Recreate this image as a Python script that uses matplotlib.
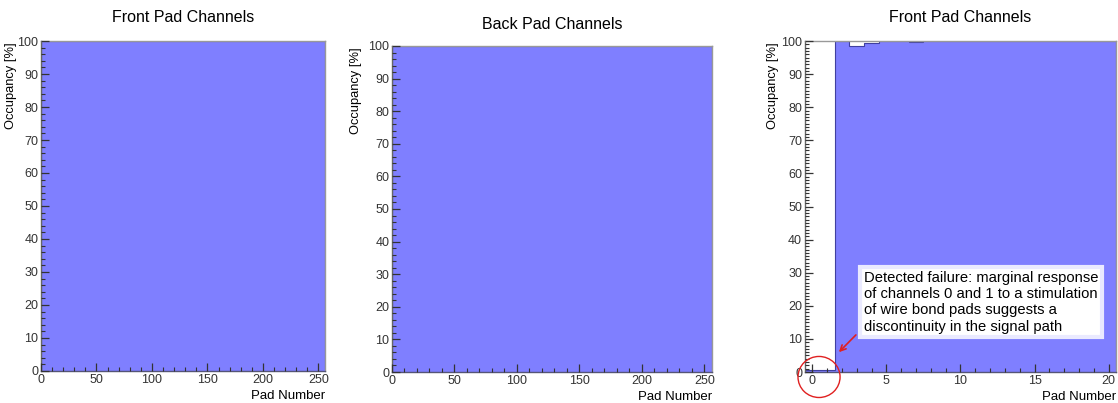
import matplotlib
matplotlib.use("Agg")
import matplotlib.pyplot as plt
import numpy as np
from matplotlib.patches import Ellipse
from matplotlib.ticker import MultipleLocator

plt.rcParams['font.family'] = ['Liberation Sans Narrow', 'Liberation Sans', 'DejaVu Sans']

# data: occupancy per pad channel [%]
front_occ = [100.0] * 256
back_occ = [100.0] * 256
zoom_occ = [0.5, 0.5, 100, 98.5, 99.5, 100, 100, 99.6, 100, 100,
            100, 100, 100, 100, 100, 100, 100, 100, 100, 100, 100]
titles = ["Front Pad Channels", "Back Pad Channels", "Front Pad Channels"]
note = ("Detected failure: marginal response\n"
        "of channels 0 and 1 to a stimulation\n"
        "of wire bond pads suggests a\n"
        "discontinuity in the signal path")

fill = '#7f7fff'
line = '#4040a0'

fig = plt.figure(figsize=(11.18, 4.03), dpi=100)
rects = [
    [0.0367, 0.0795, 0.2540, 0.8187],
    [0.3506, 0.0769, 0.2862, 0.8090],
    [0.7200, 0.0769, 0.2782, 0.8213],
]
ylab_off = [-0.105, -0.112, -0.103]


def style_axes(ax, xmaj, xmin, ymin):
    for s in ax.spines.values():
        s.set_color('#999999')
        s.set_linewidth(1.0)
    ax.spines['left'].set_color('#666666')
    ax.spines['bottom'].set_color('#555577')
    ax.xaxis.set_major_locator(MultipleLocator(xmaj))
    ax.xaxis.set_minor_locator(MultipleLocator(xmin))
    ax.yaxis.set_major_locator(MultipleLocator(10))
    ax.yaxis.set_minor_locator(MultipleLocator(ymin))
    ax.tick_params(which='both', direction='in', top=False, right=False,
                   colors='#333333', labelsize=9, pad=2)
    ax.tick_params(which='major', length=6, width=0.9)
    ax.tick_params(which='minor', length=3, width=0.8)
    ax.set_ylim(0, 100)
    ax.set_axisbelow(False)


for i, (vals, rect) in enumerate(zip([front_occ, back_occ, zoom_occ], rects)):
    ax = fig.add_axes(rect)
    n = len(vals)
    if i < 2:
        edges = np.arange(n + 1)
        ax.set_xlim(0, n)
        style_axes(ax, 50, 10, 2)
    else:
        edges = np.arange(n + 1) - 0.5
        ax.set_xlim(-0.5, n - 0.5)
        style_axes(ax, 5, 1, 1)
    ax.stairs(vals, edges, fill=True, color=fill, zorder=1)
    ax.stairs(vals, edges, color=line, linewidth=0.8, zorder=2)
    ax.set_title(titles[i], fontsize=11.5, pad=14 if i != 1 else 12)
    ax.text(ylab_off[i], 0.995, "Occupancy [%]", rotation=90, ha='center',
            va='top', fontsize=9.3, transform=ax.transAxes,
            family=['Liberation Sans', 'DejaVu Sans'])
    ax.text(1.0, -0.058, "Pad Number", ha='right', va='top', fontsize=9.5,
            transform=ax.transAxes)
    if i == 2:
        ax.text(0.19, 0.305, note, transform=ax.transAxes, ha='left',
                va='top', fontsize=10.6, linespacing=1.2,
                family=['Liberation Sans', 'DejaVu Sans'],
                bbox=dict(boxstyle='square,pad=0.25', facecolor='white',
                          edgecolor='#eaeaff', linewidth=3))
        ax.annotate("", xy=(1.66, 5.4), xytext=(3.07, 11.8),
                    arrowprops=dict(arrowstyle='->', color='#e02020', lw=1.2),
                    annotation_clip=False)
        ax.add_patch(Ellipse((0.45, -1.5), 2.84, 12.4, fill=False,
                             edgecolor='#e02020', linewidth=1.0,
                             clip_on=False, zorder=5))

fig.savefig("out.png", dpi=100)
